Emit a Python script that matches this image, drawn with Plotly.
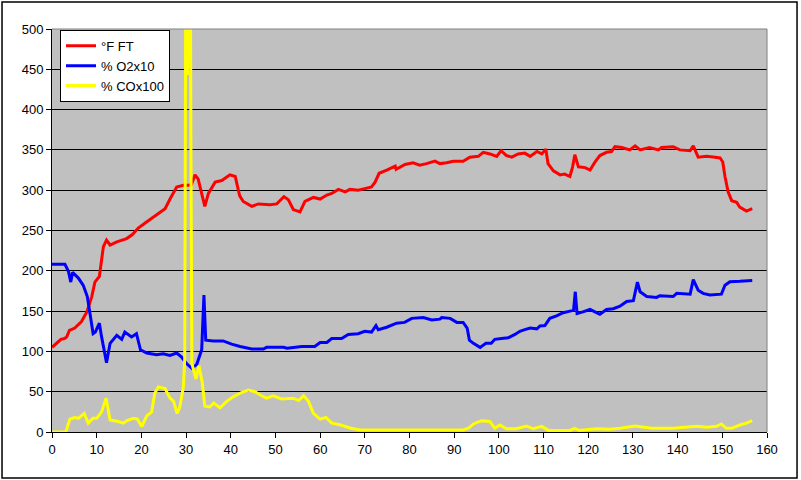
import plotly.graph_objects as go

# ---- data ----
red_x = [0, 1, 2, 2.8, 3.3, 3.9, 5.1, 6.6, 7.8, 8.9, 9.6, 10.6, 11.5, 12.2, 13, 14.5, 16.7, 18, 19.3, 21,
         22.7, 24, 25.3, 26.5, 27.9, 29.4, 30.5, 31.2, 32, 32.7, 33.5, 34.2, 35, 36.5, 38, 39.8, 41, 41.5,
         42, 42.8, 44.7, 46.2, 48.8, 50.3, 51.9, 52.9, 54, 55.5, 56.6, 58.5, 60, 61.5, 62.6, 64.1, 65.6,
         66.7, 68.5, 70, 71.5, 72.3, 73.2, 74.9, 76.8, 77, 79, 80.8, 82.3, 83.8, 85.7, 86.8, 88.3, 89.8,
         92, 93.5, 95.4, 96.5, 98, 99.5, 100.5, 101.7, 102.9, 104.3, 105.8, 107, 108.5, 109.6, 110.5,
         111, 112.2, 113.7, 114.7, 115.9, 116.5, 117, 117.8, 119.3, 120.4, 121.5, 122.6, 124.1, 125.2,
         126, 127.5, 129.3, 130.5, 131.6, 133.7, 135.7, 136.4, 139, 140.5, 142.8, 143.5, 144.6, 146.5,
         148.4, 149.5, 150.1, 150.6, 151.3, 152.1, 153.2, 153.9, 155.4, 156.7]
red_y = [105, 110, 115, 116, 118, 126, 129, 137, 149, 168, 186, 193, 230, 238, 232, 236, 240, 245, 253, 260,
         267, 272, 277, 290, 304, 306, 306, 307, 319, 314, 295, 280, 296, 310, 312, 319, 317, 305,
         293, 286, 280, 283, 282, 283, 292, 288, 276, 273, 286, 291, 289, 294, 296, 301, 298,
         301, 300, 302, 304, 310, 321, 325, 330, 326, 332, 334, 331, 333, 336, 333, 334, 336,
         336, 341, 342, 347, 345, 342, 349, 343, 341, 345, 346, 342, 348, 345, 351,
         333, 324, 319, 320, 317, 329, 344, 329, 328, 325, 335, 343, 347, 348,
         354, 353, 350, 355, 350, 353, 350, 353, 354, 350, 349, 355, 341, 342,
         341, 340, 335, 317, 298, 287, 285, 279, 274, 277]

blue_x = [0, 2.9, 3.7, 4.2, 4.6, 5.9, 7, 7.9, 8.5, 9.2, 9.7, 10.6, 11.1, 12.2, 13, 14.5, 15.6, 16.3, 17.8,
          18.9, 19.8, 21.2, 23.4, 24.9, 26.4, 27.9, 29, 30.1, 31.3, 32.4, 33.5, 34, 34.4, 36.1, 38.3,
          40.2, 42.1, 44.7, 47.3, 48, 51.8, 52.6, 55.9, 58.8, 60, 61.5, 62.6, 64.8, 66.3, 68.5, 70,
          71.5, 72.5, 73, 74.9, 77.1, 78.9, 80.5, 83.1, 85, 86.8, 87.2, 89.1, 90.6, 92, 92.9, 93.4,
          94.3, 95.8, 97.1, 98.3, 99.1, 100.6, 102.1, 103.6, 104.7, 105.8, 107, 108.5, 109.2, 110.3,
          111.4, 112.9, 114.4, 115.9, 116.7, 117.1, 117.5, 118.8, 120.4, 121.5, 122.6, 124.1, 125.6,
          127.1, 128.6, 130.1, 131, 131.6, 133.1, 135.3, 136, 139, 139.8, 142.8, 143.5, 144.6, 145.7,
          147.2, 149.8, 150.6, 151.7, 153.9, 156.7]
blue_y = [208, 208, 199, 186, 198, 191, 182, 168, 147, 122, 124, 135, 118, 86, 110, 120, 115, 124, 118,
          122, 102, 98, 96, 97, 95, 98, 93, 85, 79, 84, 102, 170, 114, 113, 113,
          109, 106, 103, 103, 105, 105, 104, 106, 106, 111, 111, 116, 116, 121, 122, 125,
          124, 132, 127, 130, 135, 136, 141, 142, 139, 140, 142, 141, 136, 136, 129, 114,
          110, 105, 110, 110, 115, 116, 117, 121, 125, 127, 129, 128, 131.5, 132,
          141, 144, 148, 150, 151, 174, 147, 149, 152, 149, 146, 152, 153,
          156, 162, 163, 186, 174, 168, 167, 169, 168, 172, 171, 189, 176, 172,
          170, 171, 182, 186.5, 187, 188]

yellow_x = [0, 3.1, 4, 5.1, 5.9, 7.2, 8.1, 9.2, 10, 11.1, 12.1, 13, 14.8, 16, 16.7, 18.2, 19.1, 20.1,
            21.2, 22.3, 23, 23.8, 25.3, 26.4, 27.2, 28, 28.6, 29.4, 29.7, 30.0, 30.3, 30.6, 30.9, 31.1,
            31.3, 32.2, 32.9, 33.6, 34.2, 35.3, 36.2, 37.6, 39.1, 40.6, 42.4, 43.9, 45.4, 46.9, 48,
            49.5, 51.4, 54, 55.2, 56.3, 57.4, 58.5, 60, 61.3, 62.6, 64.4, 66.7, 68.9, 73.4, 86.8, 92,
            93.2, 94.3, 96.1, 98, 99.1, 100.2, 101.7, 103.9, 106.2, 107.7, 109.6, 111.1, 115.9, 117,
            118, 121.8, 124.8, 127.1, 130.5, 134.2, 139, 142, 144.2, 146.5, 148.7, 149.8, 150.9, 152.1,
            153.9, 155.4, 156.7]
yellow_y = [0, 0, 16, 18, 17, 23, 11, 17, 17, 25, 42, 15, 13, 11, 14, 17, 16, 7,
            20, 25, 48, 56, 54, 42, 38, 23, 31, 56, 90, 700, 443, 700, 700, 337,
            85, 66, 82, 62, 32, 31, 36, 30, 38, 44, 49, 52, 50, 45, 42,
            45, 41, 42, 39, 45, 38, 23, 16, 18, 11, 9, 5, 2.5, 2.5, 3, 2.5,
            4.6, 10, 14, 13, 4.6, 8.7, 4, 4, 7.4, 4, 7, 2, 2, 4.5,
            2, 4, 3.5, 4.6, 7.4, 4.6, 4.6, 6, 7, 6, 7, 10, 4.6, 4.6,
            8.7, 11, 14]

series_names = ["°F FT", "% O2x10", "% COx100"]
series_colors = ["#FF0000", "#0000FF", "#FFFF00"]

x_ticks = list(range(0, 161, 10))
y_ticks = list(range(0, 501, 50))

fig = go.Figure()
for xs, ys, name, col in [(red_x, red_y, series_names[0], series_colors[0]),
                          (blue_x, blue_y, series_names[1], series_colors[1]),
                          (yellow_x, yellow_y, series_names[2], series_colors[2])]:
    fig.add_trace(go.Scatter(x=xs, y=ys, mode="lines", name=name,
                             line=dict(color=col, width=3)))

font = dict(family="Liberation Sans, Arial, sans-serif", size=13, color="#000000")

fig.update_layout(
    width=801, height=480,
    margin=dict(l=52, r=34, t=29, b=48, pad=0),
    paper_bgcolor="#FFFFFF",
    plot_bgcolor="#C0C0C0",
    font=font,
    showlegend=True,
    legend=dict(x=0.0112, y=0.998, xanchor="left", yanchor="top",
                bgcolor="#FFFFFF", bordercolor="#000000", borderwidth=1,
                font=font, tracegroupgap=0),
    xaxis=dict(range=[0, 160], tickvals=x_ticks, ticktext=[str(v) for v in x_ticks],
               showgrid=False, zeroline=False, showline=True, linecolor="#000000", linewidth=1,
               ticks="outside", ticklen=5, tickcolor="#000000", tickfont=font),
    yaxis=dict(range=[0, 500], tickvals=y_ticks, ticktext=[str(v) for v in y_ticks],
               showgrid=True, gridcolor="#000000", gridwidth=1, zeroline=False,
               showline=True, linecolor="#000000", linewidth=1,
               ticks="outside", ticklen=5, tickcolor="#000000", tickfont=font),
    shapes=[
        dict(type="line", xref="paper", yref="paper", x0=0, x1=1, y0=1, y1=1,
             line=dict(color="#808080", width=1)),
        dict(type="line", xref="paper", yref="paper", x0=1, x1=1, y0=0, y1=1,
             line=dict(color="#808080", width=1)),
        dict(type="rect", xref="paper", yref="paper", x0=-0.0699, x1=1.042, y0=-0.114, y1=1.067,
             line=dict(color="#000000", width=1.5)),
    ],
)

fig.write_html("out.html",
               config={"displayModeBar": False},
               post_script="document.body.style.margin='0px';document.body.style.overflow='hidden';")
